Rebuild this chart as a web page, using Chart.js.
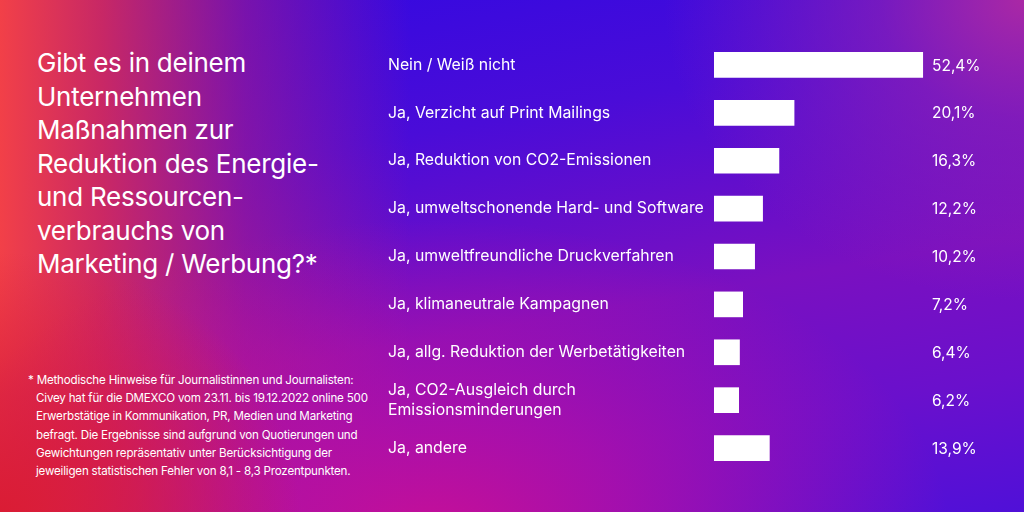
<!DOCTYPE html>
<html><head><meta charset="utf-8">
<script src="https://cdn.jsdelivr.net/npm/chart.js@4"></script>
<style>
html,body{margin:0;padding:0;width:1024px;height:512px;overflow:hidden;}
body{position:relative;font-family:Inter,"Noto Sans",sans-serif;color:#fff;
background:
 radial-gradient(ellipse 360px 300px at 1024px 0px, rgba(170,40,165,1) 0%, rgba(150,35,175,0.6) 40%, rgba(120,20,200,0) 100%),
 radial-gradient(ellipse 300px 260px at 0px 512px, rgba(218,28,52,1) 0%, rgba(215,28,60,0.7) 45%, rgba(200,20,100,0) 100%),
 radial-gradient(ellipse 520px 320px at 430px 540px, rgba(200,15,150,1) 0%, rgba(190,15,160,0.7) 40%, rgba(160,15,180,0) 100%),
 linear-gradient(90deg, rgba(242,64,72,1) 0%, rgba(225,45,80,0.85) 10%, rgba(200,30,110,0.45) 24%, rgba(160,20,160,0) 40%),
 linear-gradient(170deg, #3008e2 0%, #4a0cd8 30%, #7a10c0 60%, #6a10cc 80%, #5010d8 100%);
}
#title{position:absolute;left:37px;top:46px;font-size:26px;line-height:33.5px;font-weight:400;letter-spacing:-0.25px;}
#note{position:absolute;left:28px;top:371px;font-size:11.6px;line-height:18.2px;letter-spacing:-0.2px;}
#note div{padding-left:8px;}
#note div.first{padding-left:0;}
canvas{position:absolute;left:0;top:0;}
</style></head>
<body>
<div id="title">Gibt es in deinem<br>Unternehmen<br>Maßnahmen zur<br>Reduktion des Energie-<br>und Ressourcen-<br>verbrauchs von<br>Marketing / Werbung?*</div>
<div id="note"><div class="first">* Methodische Hinweise für Journalistinnen und Journalisten:</div><div>Civey hat für die DMEXCO vom 23.11. bis 19.12.2022 online 500</div><div>Erwerbstätige in Kommunikation, PR, Medien und Marketing</div><div>befragt. Die Ergebnisse sind aufgrund von Quotierungen und</div><div>Gewichtungen repräsentativ unter Berücksichtigung der</div><div>jeweiligen statistischen Fehler von 8,1 - 8,3 Prozentpunkten.</div></div>
<canvas id="c" width="1024" height="512"></canvas>
<script>
const categories = [
  "Nein / Weiß nicht",
  "Ja, Verzicht auf Print Mailings",
  "Ja, Reduktion von CO2-Emissionen",
  "Ja, umweltschonende Hard- und Software",
  "Ja, umweltfreundliche Druckverfahren",
  "Ja, klimaneutrale Kampagnen",
  "Ja, allg. Reduktion der Werbetätigkeiten",
  ["Ja, CO2-Ausgleich durch", "Emissionsminderungen"],
  "Ja, andere"
];
const values = [52.4, 20.1, 16.3, 12.2, 10.2, 7.2, 6.4, 6.2, 13.9];
const valueLabels = ["52,4%", "20,1%", "16,3%", "12,2%", "10,2%", "7,2%", "6,4%", "6,2%", "13,9%"];

const valuePlugin = {
  id: 'valueLabels',
  afterDatasetsDraw(chart) {
    const ctx = chart.ctx;
    const meta = chart.getDatasetMeta(0);
    ctx.save();
    ctx.fillStyle = '#ffffff';
    ctx.font = '15.5px Inter, "Noto Sans", sans-serif';
    ctx.textAlign = 'left';
    ctx.textBaseline = 'middle';
    meta.data.forEach((bar, i) => {
      ctx.fillText(valueLabels[i], 932, bar.y + 1);
    });
    ctx.restore();
  }
};

new Chart(document.getElementById('c'), {
  type: 'bar',
  data: {
    labels: categories,
    datasets: [{
      data: values,
      backgroundColor: '#ffffff',
      borderWidth: 0,
      barThickness: 25
    }]
  },
  options: {
    indexAxis: 'y',
    responsive: false,
    animation: false,
    layout: { padding: { left: 388, right: 71, top: 41, bottom: 40 } },
    plugins: { legend: { display: false }, tooltip: { enabled: false } },
    scales: {
      x: {
        min: 0, max: 60,
        display: false,
        grid: { display: false }
      },
      y: {
        grid: { display: false },
        border: { display: false },
        afterFit(scale) { scale.width = 326; },
        ticks: {
          crossAlign: 'far',
          color: '#ffffff',
          padding: 0,
          font: { family: 'Inter, "Noto Sans", sans-serif', size: 15.8, lineHeight: 1.3 }
        }
      }
    }
  },
  plugins: [valuePlugin]
});
</script>
</body></html>
